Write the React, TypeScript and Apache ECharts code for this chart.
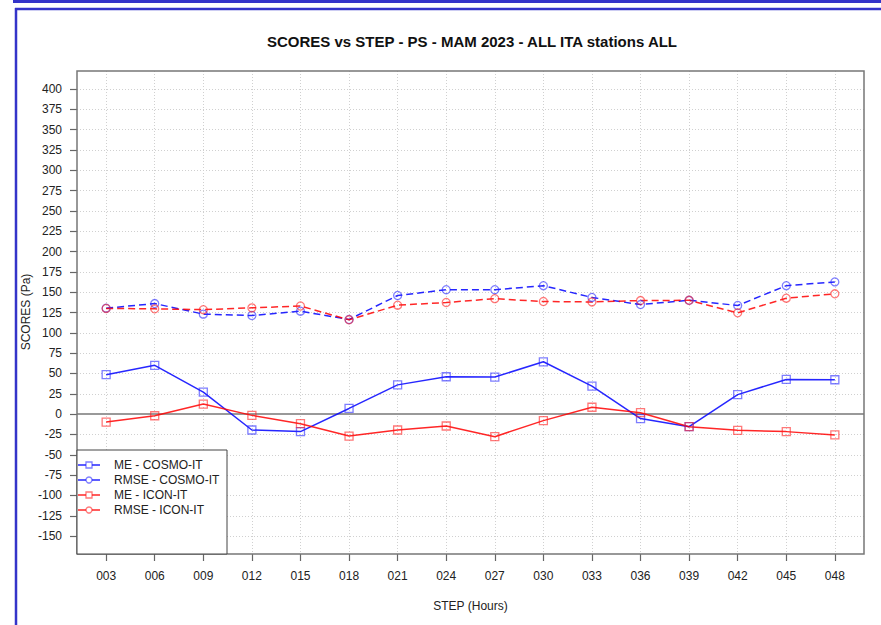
import React, { useEffect, useRef } from "react";
import * as echarts from "echarts";

const steps = ["003", "006", "009", "012", "015", "018", "021", "024", "027", "030", "033", "036", "039", "042", "045", "048"];
const meCosmo = [48.5, 60, 27, -19.5, -21.5, 7, 36, 46, 45.6, 64.4, 34.5, -5.5, -15.4, 24, 42.7, 42.3];
const rmseCosmo = [130.3, 136, 123, 121.3, 126.6, 116.4, 145.9, 153, 153, 158, 143.5, 134.8, 140, 133.6, 158, 162.6];
const meIcon = [-9.7, -2, 12.4, -1.5, -11.7, -27, -19.5, -14.6, -27.7, -8, 8.5, 1.8, -15.4, -19.9, -21.5, -25.6];
const rmseIcon = [130, 129.5, 128.5, 130.7, 133, 116, 134, 137.3, 142, 138.5, 138, 139.7, 140, 124.6, 142.6, 148];
const yTicks = [-150, -125, -100, -75, -50, -25, 0, 25, 50, 75, 100, 125, 150, 175, 200, 225, 250, 275, 300, 325, 350, 375, 400];
const seriesNames = ["ME - COSMO-IT", "RMSE - COSMO-IT", "ME - ICON-IT", "RMSE - ICON-IT"];
const titleText = "SCORES vs STEP - PS - MAM 2023 - ALL ITA stations ALL";
const yName = "SCORES (Pa)";
const xName = "STEP (Hours)";

const FONT = "'Liberation Sans', Arial, Helvetica, sans-serif";
const BLUE = "rgba(0,0,255,0.85)";
const BLUE_M = "rgba(40,40,255,0.6)";
const RED = "rgba(255,0,0,0.85)";
const RED_M = "rgba(255,30,30,0.6)";
const PAGE_BLUE = "#3434c9";

const GL = 77, GT = 71, GW = 787, GH = 483;

export default function App() {
  const ref = useRef<HTMLDivElement>(null);
  useEffect(() => {
    if (!ref.current) return;
    const chart = echarts.init(ref.current, undefined, { renderer: "svg" });
    const idx = steps.map((_, i) => i);
    const mk = (name: string, vals: number[], line: string, mark: string, dashed: boolean, sym: string) => ({
      name,
      type: "line",
      data: vals.map((v, i) => [i, v]),
      symbol: sym,
      symbolSize: 8,
      showAllSymbol: true,
      lineStyle: { color: line, width: 1.5, type: dashed ? [7, 4] : "solid" },
      itemStyle: { color: "rgba(255,255,255,0)", borderColor: mark, borderWidth: 1.3 },
      z: 3,
    });
    const legendItems: any[] = [];
    const legendColors = [
      [BLUE, BLUE_M, "rect"],
      [BLUE, BLUE_M, "circle"],
      [RED, RED_M, "rect"],
      [RED, RED_M, "circle"],
    ];
    seriesNames.forEach((n, i) => {
      const y = 465 + i * 15;
      const [lc, mc, s] = legendColors[i];
      legendItems.push({ type: "line", shape: { x1: 78, y1: y, x2: 100, y2: y }, style: { stroke: lc, lineWidth: 1.5 }, z: 101 });
      if (s === "rect") {
        legendItems.push({ type: "rect", shape: { x: 86, y: y - 3, width: 6, height: 6 }, style: { stroke: mc, fill: "#fff", lineWidth: 1.3 }, z: 102 });
      } else {
        legendItems.push({ type: "circle", shape: { cx: 89, cy: y, r: 3 }, style: { stroke: mc, fill: "#fff", lineWidth: 1.3 }, z: 102 });
      }
      legendItems.push({ type: "text", x: 114, y, style: { text: n, fill: "#222", font: `12px ${FONT}`, textVerticalAlign: "middle" }, z: 102 });
    });

    chart.setOption({
      animation: false,
      backgroundColor: "#fff",
      textStyle: { fontFamily: FONT },
      grid: { left: GL, top: GT, width: GW, height: GH, containLabel: false },
      xAxis: {
        type: "value",
        position: "bottom",
        min: -0.6,
        max: 15.6,
        name: xName,
        nameLocation: "middle",
        nameGap: 46,
        nameTextStyle: { color: "#222", fontSize: 12, fontFamily: FONT },
        axisLine: { show: false, onZero: false },
        axisTick: { show: true, length: 7, inside: false, customValues: idx, lineStyle: { color: "#666", width: 1.2 } },
        axisLabel: { customValues: idx, margin: 16, color: "#222", fontSize: 12, fontFamily: FONT, formatter: (v: number) => steps[Math.round(v)] ?? "" },
        splitLine: { show: true, lineStyle: { color: "#d0d0d0", type: [1, 2], width: 1 } },
      },
      yAxis: {
        type: "value",
        position: "left",
        min: -172,
        max: 422,
        axisLine: { show: false, onZero: false },
        axisTick: { show: true, length: 7, inside: false, customValues: yTicks, lineStyle: { color: "#666", width: 1.2 } },
        axisLabel: { customValues: yTicks, margin: 15, color: "#222", fontSize: 12, fontFamily: FONT },
        splitLine: { show: true, lineStyle: { color: "#d0d0d0", type: [1, 2], width: 1 } },
      },
      series: [
        {
          ...mk(seriesNames[0], meCosmo, BLUE, BLUE_M, false, "rect"),
          markLine: {
            silent: true,
            symbol: ["none", "none"],
            label: { show: false },
            lineStyle: { color: "#999", width: 2, type: "solid" },
            data: [{ yAxis: 0 }],
            z: 1,
          },
        },
        mk(seriesNames[1], rmseCosmo, BLUE, BLUE_M, true, "circle"),
        mk(seriesNames[2], meIcon, RED, RED_M, false, "rect"),
        mk(seriesNames[3], rmseIcon, RED, RED_M, true, "circle"),
      ],
      graphic: [
        { type: "rect", shape: { x: 13, y: 0, width: 868, height: 3 }, style: { fill: PAGE_BLUE }, z: 200 },
        { type: "line", shape: { x1: 15, y1: 9, x2: 881, y2: 9 }, style: { stroke: PAGE_BLUE, lineWidth: 2.5 }, z: 200 },
        { type: "line", shape: { x1: 16, y1: 8, x2: 16, y2: 625 }, style: { stroke: PAGE_BLUE, lineWidth: 2.5 }, z: 200 },
        { type: "text", x: 472, y: 41, style: { text: titleText, fill: "#111", font: `bold 15px ${FONT}`, textAlign: "center", textVerticalAlign: "middle" }, z: 100 },
        { type: "text", x: 26, y: 312, rotation: Math.PI / 2, style: { text: yName, fill: "#222", font: `12px ${FONT}`, textAlign: "center", textVerticalAlign: "middle" }, z: 100 },
        { type: "rect", shape: { x: GL, y: GT, width: GW, height: GH }, style: { fill: "none", stroke: "#777", lineWidth: 1.5 }, z: 99 },
        { type: "rect", shape: { x: GL, y: 450, width: 150, height: 104 }, style: { fill: "#fff", stroke: "#444", lineWidth: 1 }, z: 100 },
        ...legendItems,
      ],
    });
    return () => chart.dispose();
  }, []);
  return <div ref={ref} style={{ position: "fixed", left: 0, top: 0, width: 881, height: 625 }} />;
}
